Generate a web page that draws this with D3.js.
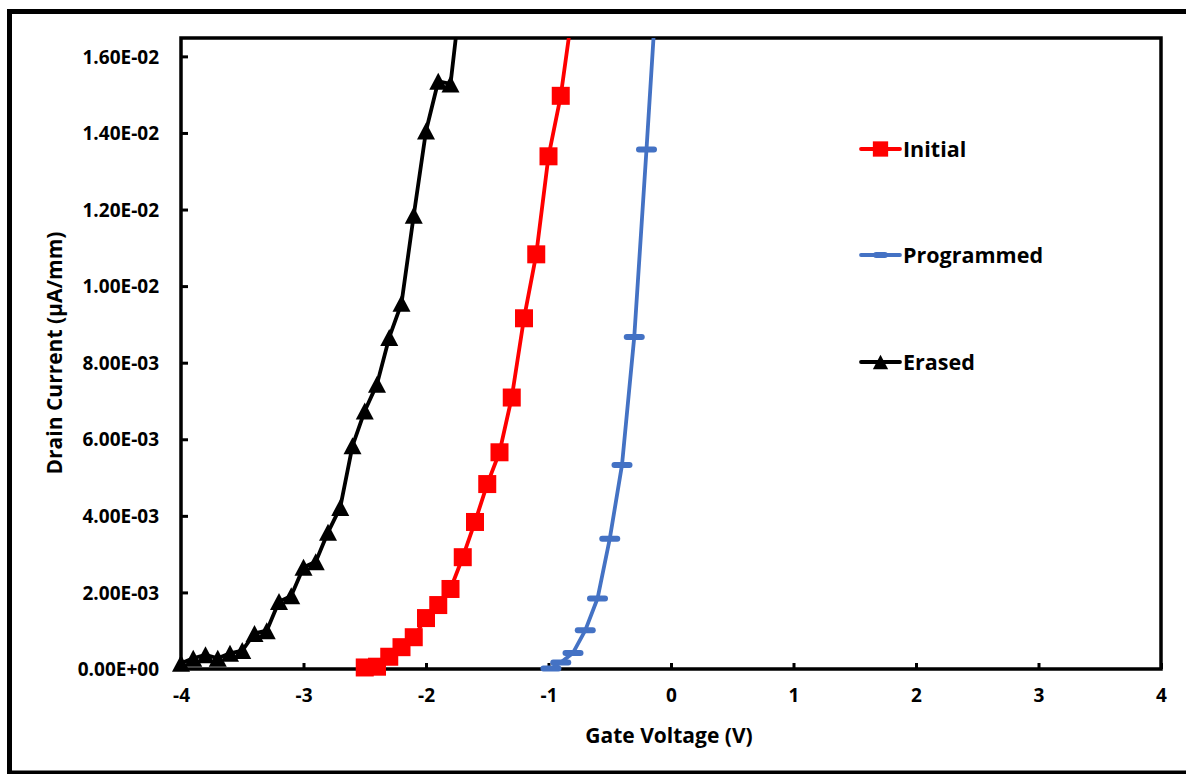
<!DOCTYPE html>
<html>
<head>
<meta charset="utf-8">
<script src="https://cdn.jsdelivr.net/npm/d3@7"></script>
<style>
  html, body { margin: 0; padding: 0; background: #fff; }
  svg { display: block; font-family: "Open Sans", "Liberation Sans", sans-serif; font-weight: 700; }
</style>
</head>
<body>
<svg id="chart" width="1186" height="774"></svg>
<script>
// Gate voltage sweeps (V) and drain currents (µA/mm) for each memory state
const initialVg = [-2.5, -2.4, -2.3, -2.2, -2.1, -2.0, -1.9, -1.8, -1.7, -1.6, -1.5, -1.4, -1.3, -1.2, -1.1, -1.0, -0.9, -0.8];
const initialId = [0.00004, 0.00006, 0.00032, 0.00057, 0.00083, 0.00133, 0.00167, 0.00209, 0.00292, 0.00384, 0.00483, 0.00566, 0.00709, 0.00916, 0.01083, 0.01339, 0.01497, 0.01728];

const programmedVg = [-0.98, -0.9, -0.8, -0.7, -0.6, -0.5, -0.4, -0.3, -0.2, -0.1];
const programmedId = [0.00001, 0.00017, 0.00042, 0.00101, 0.00184, 0.00340, 0.00533, 0.00867, 0.01357, 0.01866];

const erasedVg = [-4.0, -3.9, -3.8, -3.7, -3.6, -3.5, -3.4, -3.3, -3.2, -3.1, -3.0, -2.9, -2.8, -2.7, -2.6, -2.5, -2.4, -2.3, -2.2, -2.1, -2.0, -1.9, -1.8, -1.7];
const erasedId = [0.00015, 0.00028, 0.00037, 0.00028, 0.00041, 0.00048, 0.00093, 0.00100, 0.00176, 0.00191, 0.00266, 0.00280, 0.00357, 0.00422, 0.00583, 0.00674, 0.00744, 0.00866, 0.00955, 0.01185, 0.01405, 0.01535, 0.01528, 0.01806];

const xTicks = [-4, -3, -2, -1, 0, 1, 2, 3, 4];
const yTicks = [0, 0.002, 0.004, 0.006, 0.008, 0.010, 0.012, 0.014, 0.016];
const seriesNames = ["Initial", "Programmed", "Erased"];

const svg = d3.select("#chart");
const plot = { left: 181, right: 1161, top: 38, bottom: 669 };

const x = d3.scaleLinear().domain([-4, 4]).range([plot.left, plot.right]);
const y = d3.scaleLinear().domain([0, 0.01648]).range([plot.bottom, plot.top]);

// Outer chart border
svg.append("rect")
  .attr("x", 9.5).attr("y", 11.5)
  .attr("width", 1200).attr("height", 761.5)
  .attr("fill", "none").attr("stroke", "#000").attr("stroke-width", 5);

svg.append("defs").append("clipPath").attr("id", "plotClip")
  .append("rect")
  .attr("x", plot.left).attr("y", plot.top)
  .attr("width", plot.right - plot.left).attr("height", plot.bottom - plot.top);

// Scientific tick format like 1.60E-02
function sci(d) {
  if (d === 0) return "0.00E+00";
  const [m, e] = d.toExponential(2).split("e");
  const n = parseInt(e, 10);
  return m + "E" + (n < 0 ? "-" : "+") + String(Math.abs(n)).padStart(2, "0");
}

// Axes with inward tick marks
const xAxis = d3.axisBottom(x).tickValues(xTicks).tickSize(-6).tickPadding(18).tickFormat(d => String(d));
const yAxis = d3.axisLeft(y).tickValues(yTicks).tickSize(-7).tickPadding(21).tickFormat(sci);

const gx = svg.append("g").attr("transform", `translate(0,${plot.bottom})`).call(xAxis);
const gy = svg.append("g").attr("transform", `translate(${plot.left},0)`).call(yAxis);
[gx, gy].forEach(g => {
  g.select(".domain").remove();
  g.selectAll(".tick line").attr("stroke", "#000").attr("stroke-width", 3);
  g.selectAll(".tick text").attr("fill", "#000").attr("font-size", 19).attr("font-weight", 700)
    .attr("font-family", "'Open Sans', sans-serif");
});
gx.selectAll(".tick text").attr("dy", "0.71em").attr("y", 20);
gy.selectAll(".tick text").attr("x", -22).attr("dy", "0.35em");

// Plot frame
svg.append("rect")
  .attr("x", plot.left).attr("y", plot.top)
  .attr("width", plot.right - plot.left).attr("height", plot.bottom - plot.top)
  .attr("fill", "none").attr("stroke", "#000").attr("stroke-width", 3.5);

// Axis titles
svg.append("text")
  .attr("x", (plot.left + plot.right) / 2 - 2).attr("y", 743)
  .attr("text-anchor", "middle").attr("font-size", 21).attr("fill", "#000")
  .text("Gate Voltage (V)");
svg.append("text")
  .attr("transform", "translate(62,353) rotate(-90)")
  .attr("text-anchor", "middle").attr("font-size", 21).attr("fill", "#000")
  .text("Drain Current (µA/mm)");

const series = [
  { name: seriesNames[0], vg: initialVg, id: initialId, color: "#FF0000", marker: "square" },
  { name: seriesNames[1], vg: programmedVg, id: programmedId, color: "#4472C4", marker: "dash" },
  { name: seriesNames[2], vg: erasedVg, id: erasedId, color: "#000000", marker: "triangle" }
];

const line = d3.line().x(d => x(d[0])).y(d => y(d[1]));

function drawMarker(g, type, color, cx, cy, s) {
  if (type === "square") {
    g.append("rect").attr("x", cx - 9 * s).attr("y", cy - 9 * s)
      .attr("width", 18 * s).attr("height", 18 * s).attr("fill", color);
  } else if (type === "dash") {
    g.append("rect").attr("x", cx - 10.5 * s).attr("y", cy - 3)
      .attr("width", 21 * s).attr("height", 6).attr("rx", 3).attr("fill", color);
  } else {
    const w = 9 * s, h = 8.5 * s;
    g.append("path")
      .attr("d", `M${cx},${cy - h}L${cx + w},${cy + h}L${cx - w},${cy + h}Z`)
      .attr("fill", color);
  }
}

const yMax = y.domain()[1];
series.forEach(sr => {
  const pts = sr.vg.map((v, i) => [v, sr.id[i]]);
  svg.append("path")
    .datum(pts)
    .attr("clip-path", "url(#plotClip)")
    .attr("fill", "none").attr("stroke", sr.color)
    .attr("stroke-width", 3.8).attr("stroke-linejoin", "round")
    .attr("d", line);
  const mg = svg.append("g");
  pts.filter(p => p[1] <= yMax).forEach(p => drawMarker(mg, sr.marker, sr.color, x(p[0]), y(p[1]), 1));
});

// Legend
const legendY = [149, 255, 362];
series.forEach((sr, i) => {
  const g = svg.append("g");
  g.append("line").attr("x1", 861).attr("x2", 900).attr("y1", legendY[i]).attr("y2", legendY[i])
    .attr("stroke", sr.color).attr("stroke-width", 3.8).attr("stroke-linecap", "round");
  drawMarker(g, sr.marker, sr.color, 880.5, legendY[i], sr.marker === "dash" ? 0.7 : 0.85);
  g.append("text").attr("x", 903).attr("y", legendY[i]).attr("dy", "0.36em")
    .attr("font-size", 21.5).attr("fill", "#000").text(sr.name);
});
</script>
</body>
</html>
